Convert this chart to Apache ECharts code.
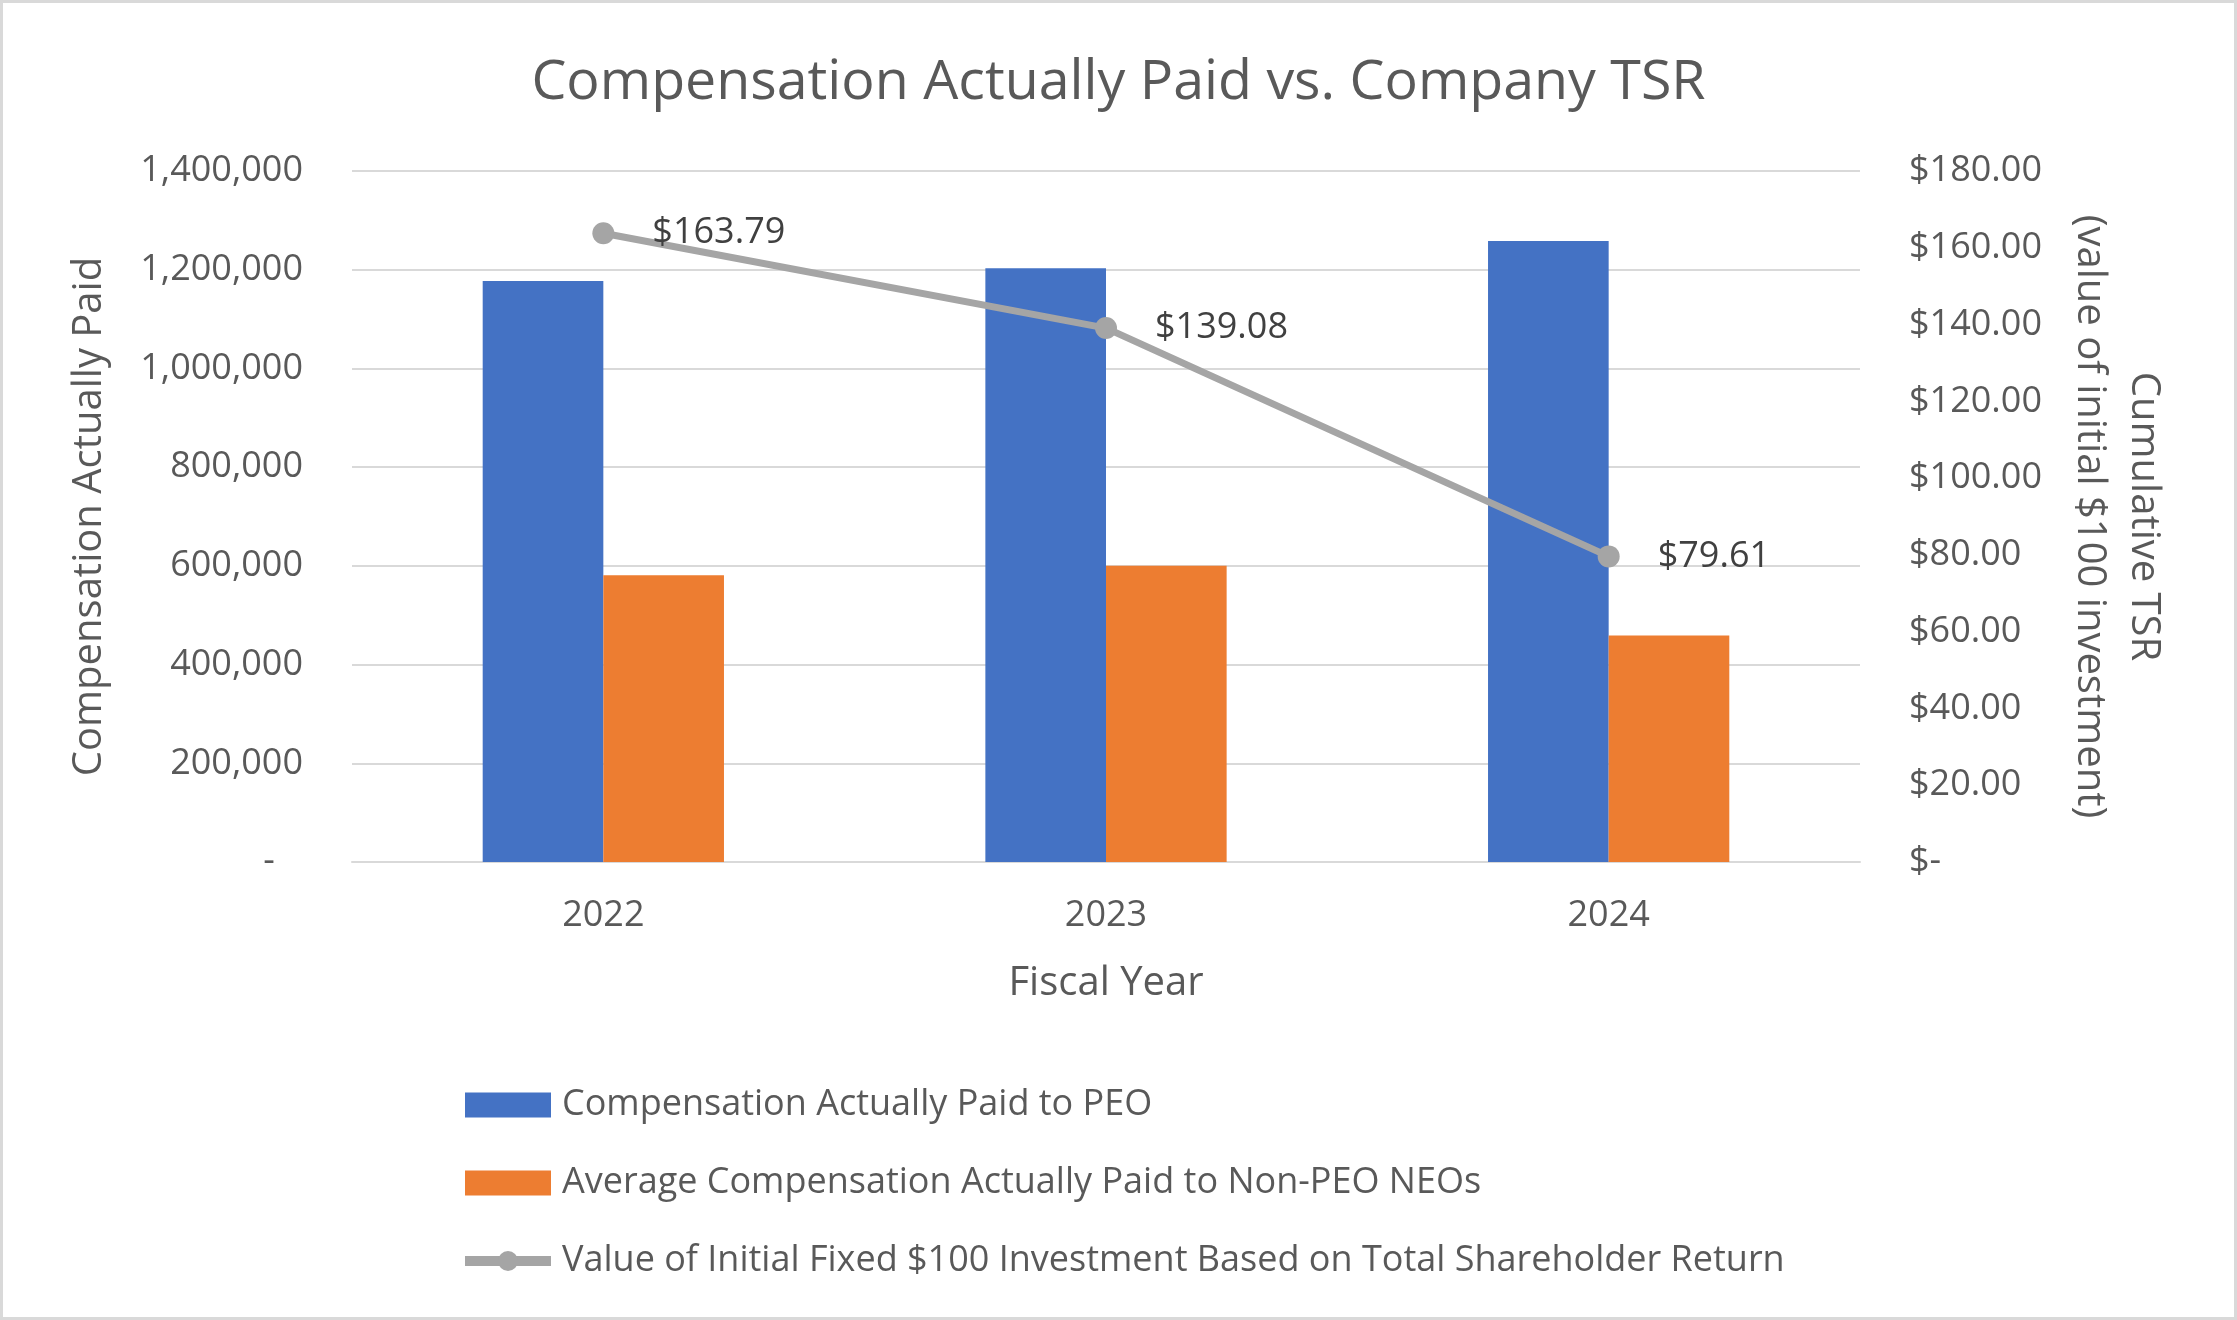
<!DOCTYPE html>
<html><head><meta charset="utf-8">
<script src="https://cdn.jsdelivr.net/npm/echarts@6/dist/echarts.min.js"></script>
<style>html,body{margin:0;padding:0;background:#fff}#c{width:2237px;height:1320px}</style>
</head><body><div id="c"></div>
<script>
const years = ['2022', '2023', '2024'];
const peoCap = [1177000, 1203000, 1258000];
const neoCap = [581000, 600000, 459000];
const tsr = [163.79, 139.08, 79.61];
const seriesNames = ['Compensation Actually Paid to PEO', 'Average Compensation Actually Paid to Non-PEO NEOs', 'Value of Initial Fixed $100 Investment Based on Total Shareholder Return'];
const titleText = 'Compensation Actually Paid vs. Company TSR';
const leftAxisName = 'Compensation Actually Paid';
const rightAxisName = 'Cumulative TSR\n(value of initial $100 investment)';
const xAxisName = 'Fiscal Year';

const FONT = "'Open Sans', 'Noto Sans', sans-serif";
const TXT = '#595959';
const chart = echarts.init(document.getElementById('c'), null, {renderer: 'canvas'});
chart.setOption({
  animation: false,
  backgroundColor: '#fff',
  textStyle: {fontFamily: FONT},
  graphic: [{type: 'rect', shape: {x: 1.5, y: 1.5, width: 2234, height: 1317}, style: {fill: 'none', stroke: '#D9D9D9', lineWidth: 3}, silent: true}],
  title: {text: titleText, left: 'center', top: 50, textStyle: {fontFamily: FONT, fontSize: 55.5, fontWeight: 'normal', color: TXT}},
  grid: {left: 352, right: 377, top: 171, bottom: 458, containLabel: false, outerBoundsMode: 'none'},
  legend: {
    orient: 'vertical', left: 455, top: 1082, itemWidth: 86, itemHeight: 25, itemGap: 42,
    textStyle: {fontFamily: FONT, fontSize: 36, color: TXT, padding: [0, 0, 0, 6]},
    data: [{name: seriesNames[0], icon: 'rect'}, {name: seriesNames[1], icon: 'rect'},
      {name: seriesNames[2], lineStyle: {width: 10, color: '#A5A5A5'}}]
  },
  xAxis: {
    type: 'category', data: years,
    axisLine: {lineStyle: {color: '#D9D9D9', width: 2}}, axisTick: {show: false},
    axisLabel: {fontFamily: FONT, fontSize: 36, color: TXT, margin: 36},
    name: xAxisName, nameLocation: 'middle', nameGap: 102,
    nameTextStyle: {fontFamily: FONT, fontSize: 40, color: TXT}
  },
  yAxis: [{
    type: 'value', min: 0, max: 1400000, interval: 200000,
    axisLine: {show: false}, axisTick: {show: false},
    splitLine: {lineStyle: {color: '#D9D9D9', width: 2}},
    axisLabel: {fontFamily: FONT, fontSize: 36, color: TXT, margin: 49,
      formatter: v => v === 0 ? '-   ' : v.toLocaleString('en-US')},
    name: leftAxisName, nameLocation: 'middle', nameGap: 242, nameRotate: 90,
    nameTextStyle: {fontFamily: FONT, fontSize: 40, color: TXT}
  }, {
    type: 'value', min: 0, max: 180, interval: 20, position: 'right',
    axisLine: {show: false}, axisTick: {show: false}, splitLine: {show: false},
    axisLabel: {fontFamily: FONT, fontSize: 36, color: TXT, margin: 49,
      formatter: v => v === 0 ? '$-' : '$' + v.toFixed(2)},
    name: rightAxisName, nameLocation: 'middle', nameGap: 202, nameRotate: -90,
    nameTextStyle: {fontFamily: FONT, fontSize: 40, color: TXT, lineHeight: 54}
  }],
  series: [
    {name: seriesNames[0], type: 'bar', data: peoCap, itemStyle: {color: '#4472C4'}, barGap: '0%', barCategoryGap: '52%'},
    {name: seriesNames[1], type: 'bar', data: neoCap, itemStyle: {color: '#ED7D31'}, barGap: '0%', barCategoryGap: '52%'},
    {name: seriesNames[2], type: 'line', yAxisIndex: 1, data: tsr,
      lineStyle: {color: '#A5A5A5', width: 7}, itemStyle: {color: '#A5A5A5'},
      symbol: 'circle', symbolSize: 22,
      label: {show: true, position: 'right', distance: 38, fontFamily: FONT, fontSize: 36, color: '#404040',
        formatter: p => '$' + p.value.toFixed(2)}}
  ]
});
</script></body></html>
